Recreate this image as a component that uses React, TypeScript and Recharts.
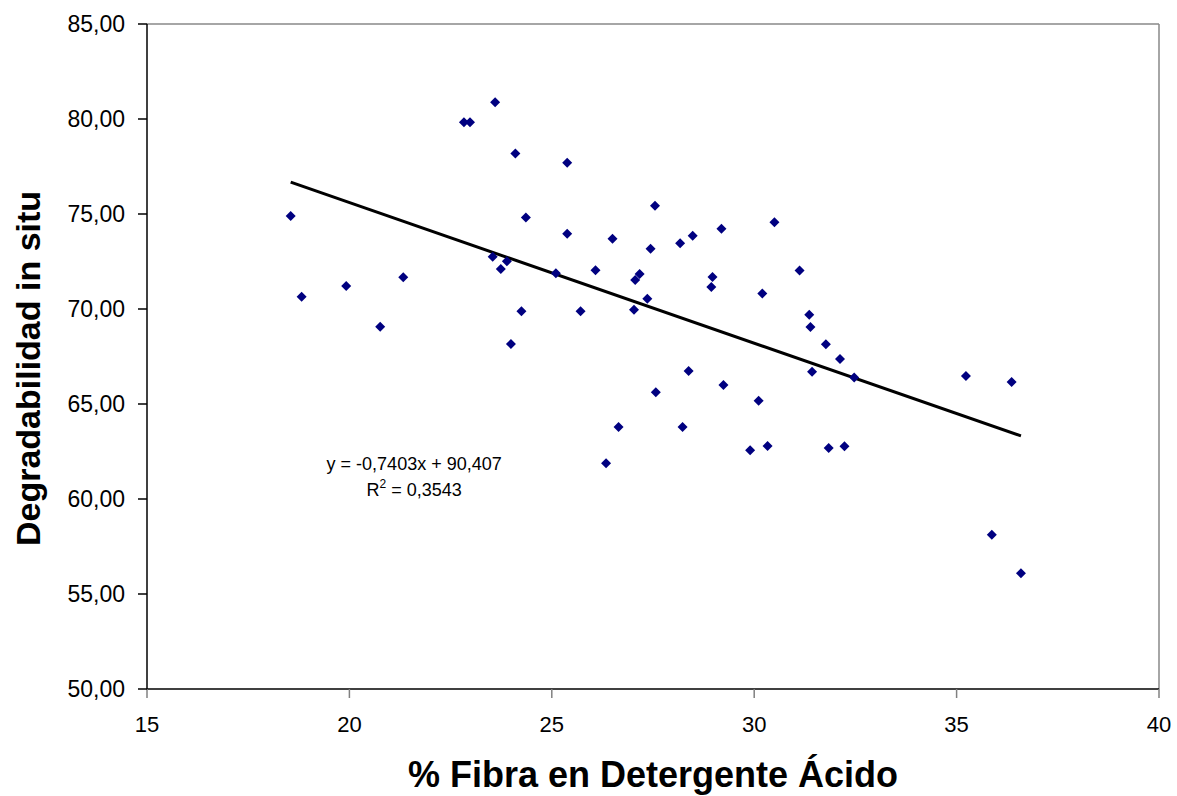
import React from 'react'
import {
  ScatterChart,
  Scatter,
  XAxis,
  YAxis,
  ReferenceLine,
  ReferenceDot,
} from 'recharts'

// % FDA (x) vs degradabilidad in situ (y)
const FDA = [
  18.55, 18.82, 19.92, 20.76, 21.33, 22.83, 22.98, 23.6, 24.1, 25.38,
  24.36, 25.38, 26.5, 23.54, 23.89, 23.74, 25.1, 26.08, 24.25, 25.71,
  23.99, 27.55, 27.44, 28.17, 28.48, 29.19, 30.5, 27.17, 27.06, 28.97,
  28.94, 31.12, 27.36, 27.03, 30.2, 31.36, 31.39, 31.77, 32.12, 31.43,
  28.38, 29.24, 27.57, 30.11, 26.65, 28.23, 26.34, 29.9, 30.33, 31.84,
  32.23, 32.47, 35.23, 36.36, 35.87, 36.59,
]
const DEGRADABILIDAD = [
  74.89, 70.65, 71.21, 69.07, 71.67, 79.83, 79.83, 80.88, 78.19, 77.7,
  74.81, 73.96, 73.7, 72.75, 72.51, 72.11, 71.88, 72.04, 69.88, 69.88,
  68.16, 75.44, 73.17, 73.46, 73.86, 74.23, 74.56, 71.84, 71.53, 71.68,
  71.16, 72.02, 70.54, 69.96, 70.81, 69.7, 69.05, 68.14, 67.37, 66.7,
  66.74, 66.0, 65.62, 65.17, 63.79, 63.79, 61.88, 62.56, 62.79, 62.68,
  62.77, 66.4, 66.47, 66.16, 58.12, 56.09,
]

// linear fit shown on the chart
const SLOPE = -0.7403
const INTERCEPT = 90.407
const R2 = '0,3543'

const X_TICKS = [15, 20, 25, 30, 35, 40]
const Y_TICKS = [50, 55, 60, 65, 70, 75, 80, 85]

const FONT = '"Liberation Sans", Arial, sans-serif'

const points = FDA.map((x, i) => ({ x, y: DEGRADABILIDAD[i] }))
const xMin = Math.min(...FDA)
const xMax = Math.max(...FDA)
const trend = [xMin, xMax].map((x) => ({ x, y: SLOPE * x + INTERCEPT }))

const fmtY = (v: number) => v.toFixed(2).replace('.', ',')

function Diamond(props: any) {
  const { cx, cy } = props
  if (cx == null || cy == null) return <g />
  const r = 5
  return (
    <polygon
      points={`${cx},${cy - r} ${cx + r},${cy} ${cx},${cy + r} ${cx - r},${cy}`}
      fill="#000080"
    />
  )
}

function EquationLabel(props: any) {
  const vb = props.viewBox || {}
  const cx = vb.cx ?? vb.x
  const cy = vb.cy ?? vb.y
  return (
    <g fontFamily={FONT} fontSize={18} fill="#000">
      <text x={cx} y={cy + 6} textAnchor="middle">
        y = -0,7403x + 90,407
      </text>
      <text x={cx} y={cy + 32} textAnchor="middle">
        R<tspan dy={-8} fontSize={12}>2</tspan>
        <tspan dy={8}> = {R2}</tspan>
      </text>
    </g>
  )
}

export default function App() {
  return (
    <div style={{ position: 'absolute', left: 0, top: 0, background: '#fff' }}>
      <ScatterChart
        width={1177}
        height={796}
        margin={{ top: 24, right: 18, bottom: 0, left: 0 }}
      >
        <XAxis
          type="number"
          dataKey="x"
          domain={[15, 40]}
          ticks={X_TICKS}
          height={107}
          tickSize={9}
          tickMargin={18}
          axisLine={{ stroke: '#000', strokeWidth: 1.5 }}
          tickLine={{ stroke: '#808080', strokeWidth: 1.5 }}
          tick={{ fill: '#000', fontSize: 22, fontFamily: FONT }}
          label={{
            content: (p: any) => {
              const vb = p.viewBox
              return (
                <text
                  x={vb.x + vb.width / 2}
                  y={vb.y + 98}
                  textAnchor="middle"
                  fontFamily={FONT}
                  fontWeight="bold"
                  fontSize={36}
                  fill="#000"
                >
                  % Fibra en Detergente Ácido
                </text>
              )
            },
          }}
        />
        <YAxis
          type="number"
          dataKey="y"
          domain={[50, 85]}
          ticks={Y_TICKS}
          width={147}
          tickSize={9}
          tickMargin={13}
          tickFormatter={fmtY}
          axisLine={{ stroke: '#000', strokeWidth: 1.5 }}
          tickLine={{ stroke: '#000', strokeWidth: 1.5 }}
          tick={{ fill: '#000', fontSize: 23, fontFamily: FONT }}
          label={{
            content: (p: any) => {
              const vb = p.viewBox
              const cx = 28
              const cy = vb.y + vb.height / 2 + 12
              return (
                <text
                  x={cx}
                  y={cy}
                  transform={`rotate(-90 ${cx} ${cy})`}
                  textAnchor="middle"
                  dominantBaseline="central"
                  fontFamily={FONT}
                  fontWeight="bold"
                  fontSize={34}
                  fill="#000"
                >
                  Degradabilidad in situ
                </text>
              )
            },
          }}
        />
        <ReferenceLine y={85} stroke="#888" strokeWidth={1.5} />
        <ReferenceLine x={40} stroke="#888" strokeWidth={1.5} />
        <Scatter
          data={trend}
          line={{ stroke: '#000', strokeWidth: 3 }}
          shape={() => <g />}
          isAnimationActive={false}
        />
        <Scatter data={points} shape={<Diamond />} isAnimationActive={false} />
        <ReferenceDot
          x={21.6}
          y={61.84}
          r={0}
          fill="none"
          stroke="none"
          label={{ content: (p: any) => <EquationLabel {...p} /> }}
        />
      </ScatterChart>
    </div>
  )
}
